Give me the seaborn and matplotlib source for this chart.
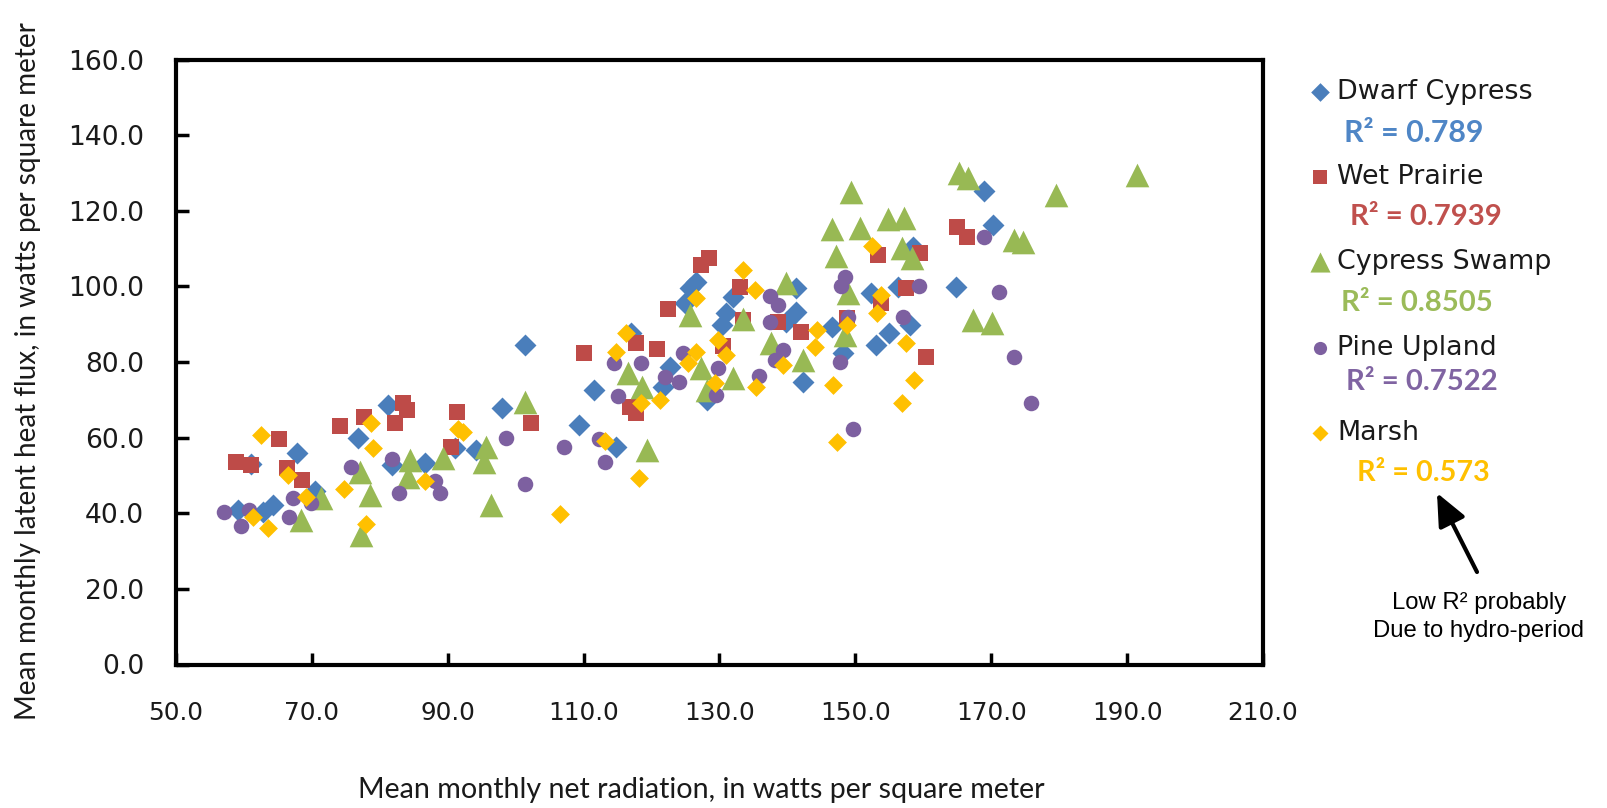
import numpy as np
import pandas as pd
import matplotlib
matplotlib.use("Agg")
import matplotlib.pyplot as plt
import seaborn as sns
from matplotlib import font_manager
from matplotlib.font_manager import FontProperties
from matplotlib.ticker import FormatStrFormatter

# ---------------- data ----------------
dwarf_x = [59.1, 61.0, 62.8, 64.3, 67.8, 70.4, 76.8, 81.2, 81.8, 86.6, 91.0, 94.2, 98.0, 101.4,
           109.3, 111.5, 114.8, 117.0, 121.7, 122.7, 124.9, 125.6, 126.6, 128.1, 130.3, 131.0,
           132.0, 139.8, 141.3, 141.3, 142.3, 146.5, 148.2, 152.3, 153.1, 155.0, 156.3, 158.0,
           158.5, 164.8, 168.9, 170.2]
dwarf_y = [40.9, 53.0, 40.4, 42.2, 56.0, 46.0, 59.8, 68.6, 52.8, 53.2, 57.2, 56.7, 67.8, 84.5,
           63.3, 72.6, 57.4, 87.6, 73.5, 78.8, 95.5, 99.5, 101.2, 70.0, 89.8, 92.9,
           97.3, 90.7, 93.3, 99.5, 74.8, 89.3, 82.3, 98.2, 84.5, 87.6, 99.9, 89.8,
           110.5, 99.8, 125.3, 116.2]

prairie_x = [58.9, 61.1, 65.1, 66.3, 68.6, 74.1, 77.6, 82.2, 83.4, 84.0, 90.5, 91.3, 102.2, 110.1,
             116.8, 117.7, 117.7, 120.8, 122.4, 127.3, 128.5, 130.5, 133.0, 133.4, 138.6, 142.0,
             148.7, 153.3, 153.8, 157.5, 159.5, 160.4, 164.9, 166.4]
prairie_y = [53.6, 52.8, 59.6, 51.9, 48.8, 63.1, 65.4, 63.8, 69.1, 67.3, 57.6, 66.9, 63.8, 82.3,
             68.2, 66.4, 84.9, 83.4, 93.9, 105.7, 107.4, 84.1, 99.9, 91.1, 90.7, 88.0,
             91.6, 108.3, 95.5, 99.5, 108.9, 81.2, 115.6, 113.1]

swamp_x = [68.4, 71.4, 77.1, 77.3, 78.5, 84.1, 84.4, 89.3, 95.4, 95.7, 96.4, 101.3, 116.5, 118.6,
           119.4, 125.6, 127.3, 128.1, 132.0, 133.4, 137.6, 139.8, 142.3, 146.6, 147.2, 148.4,
           148.9, 149.3, 150.7, 154.8, 156.8, 157.2, 158.4, 165.3, 166.6, 167.3, 170.1, 173.4,
           174.6, 179.6, 191.4]
swamp_y = [38.2, 44.0, 51.0, 34.3, 44.8, 49.7, 54.1, 54.5, 53.6, 57.6, 42.2, 69.5, 77.0, 73.5,
           56.7, 92.4, 78.3, 72.6, 75.7, 91.3, 84.9, 100.8, 80.5, 115.3, 108.0, 87.1,
           98.2, 125.0, 115.5, 117.8, 110.1, 118.0, 107.4, 129.9, 128.6, 91.1, 90.2, 112.3,
           111.8, 124.2, 129.5]

pine_x = [57.1, 59.6, 60.7, 66.7, 67.2, 69.9, 75.8, 81.8, 82.8, 88.1, 88.9, 98.6, 101.3, 107.1,
          112.3, 113.2, 114.4, 115.1, 118.5, 122.0, 124.1, 124.7, 129.5, 129.8, 135.8, 137.4,
          137.4, 138.1, 138.6, 139.3, 147.7, 147.9, 148.4, 148.9, 149.6, 157.0, 159.4, 168.9,
          171.1, 173.4, 175.8]
pine_y = [40.3, 36.7, 40.9, 38.9, 44.0, 42.8, 52.1, 54.3, 45.3, 48.4, 45.3, 59.8, 47.7, 57.4,
          59.6, 53.5, 79.8, 71.0, 79.8, 76.0, 74.8, 82.5, 71.2, 78.3, 76.4, 97.5,
          90.7, 80.5, 95.1, 83.2, 80.1, 100.1, 102.6, 92.0, 62.3, 92.0, 100.1, 113.1,
          98.6, 81.2, 69.1]

marsh_x = [61.3, 62.5, 63.6, 66.5, 69.1, 74.8, 77.9, 78.7, 79.0, 86.6, 91.5, 92.2, 106.5, 113.2,
           114.8, 116.3, 118.2, 118.5, 121.2, 125.3, 126.6, 126.6, 129.3, 129.8, 131.0, 133.4,
           135.2, 135.4, 139.3, 144.0, 144.4, 146.7, 147.3, 148.7, 152.5, 153.2, 153.8, 156.8,
           157.5, 158.6]
marsh_y = [39.1, 60.7, 36.0, 50.1, 44.2, 46.3, 37.2, 64.0, 57.2, 48.6, 62.2, 61.6, 39.8, 59.2,
           82.7, 87.6, 49.2, 69.1, 70.0, 79.7, 82.7, 96.8, 74.4, 85.8, 81.9, 104.3,
           99.0, 73.5, 79.2, 84.0, 88.5, 73.9, 58.8, 89.8, 110.8, 92.9, 97.7, 69.1,
           85.0, 75.2]

series_names = ["Dwarf Cypress", "Wet Prairie", "Cypress Swamp", "Pine Upland", "Marsh"]
r2_labels = ["R\u00b2 = 0.789", "R\u00b2 = 0.7939", "R\u00b2 = 0.8505", "R\u00b2 = 0.7522", "R\u00b2 = 0.573"]
x_ticks = [50, 70, 90, 110, 130, 150, 170, 190, 210]
y_ticks = [0, 20, 40, 60, 80, 100, 120, 140, 160]

# ---------------- style ----------------
colors = ["#4A7EBB", "#BE4B48", "#98B954", "#7D60A0", "#FFC000"]
r2_colors = ["#4F86C6", "#C0504D", "#9BBB59", "#8064A2", "#FFC000"]
markers = ["D", "s", "^", "o", "D"]
sizes = [125, 130, 290, 125, 92]

sns.set_theme(style="white")
plt.rcParams["font.family"] = ["DejaVu Sans"]

names = {f.name for f in font_manager.fontManager.ttflist}
calib = "Lato" if "Lato" in names else "DejaVu Sans"

W, H = 1608, 808
fig = plt.figure(figsize=(W / 100, H / 100), dpi=100)
L, R, T, B = 176, 1263, 59.5, 664.5
ax = fig.add_axes([L / W, 1 - B / H, (R - L) / W, (B - T) / H])

data = [(dwarf_x, dwarf_y), (prairie_x, prairie_y), (swamp_x, swamp_y), (pine_x, pine_y), (marsh_x, marsh_y)]
for (xs, ys), name, c, m, s in zip(data, series_names, colors, markers, sizes):
    df = pd.DataFrame({"x": xs, "y": ys})
    sns.scatterplot(data=df, x="x", y="y", marker=m, color=c, s=s, linewidth=0,
                    ax=ax, label=name, zorder=3)

handles, labels = ax.get_legend_handles_labels()
if ax.get_legend() is not None:
    ax.get_legend().remove()

ax.set_xlim(50, 210)
ax.set_ylim(0, 160)
ax.set_xticks(x_ticks)
ax.set_yticks(y_ticks)
ax.xaxis.set_major_formatter(FormatStrFormatter("%.1f"))
ax.yaxis.set_major_formatter(FormatStrFormatter("%.1f"))
ax.set_xlabel("")
ax.set_ylabel("")
ax.grid(False)
for sp in ax.spines.values():
    sp.set_visible(True)
    sp.set_color("black")
    sp.set_linewidth(3)
ax.tick_params(axis="both", direction="in", length=9, width=2.5, color="black",
               labelcolor="#1a1a1a")
ax.tick_params(axis="y", pad=23, left=True)
ax.tick_params(axis="x", pad=26, bottom=True)

fig.canvas.draw()
rend = fig.canvas.get_renderer()


def measure(text, **kw):
    t = fig.text(0, 0, text, **kw)
    fig.canvas.draw()
    w = t.get_window_extent(rend).width
    t.remove()
    return w


def fit(t, target):
    w = t.get_window_extent(rend).width
    t.set_fontsize(t.get_fontsize() * target / w)


# tick label sizes
fy = 18 * 76 / measure("160.0", fontsize=18)
fx = 18 * 71 / measure("110.0", fontsize=18)
fpy = FontProperties(family="DejaVu Sans", size=fy)
fpx = FontProperties(family="DejaVu Sans", size=fx)
for t in ax.get_yticklabels():
    t.set_fontproperties(fpy)
for t in ax.get_xticklabels():
    t.set_fontproperties(fpx)

# axis titles
xt = fig.text(701 / W, 1 - 790 / H, "Mean monthly net radiation, in watts per square meter",
              ha="center", va="center", fontsize=16, color="#1a1a1a", family=calib)
yt = fig.text(28 / W, 1 - 371 / H, "Mean monthly latent heat flux, in watts per square meter",
              ha="center", va="center", rotation=90, fontsize=16, color="#1a1a1a", family=calib)
fig.canvas.draw()
fit(xt, 689)
w = yt.get_window_extent(rend).height
yt.set_fontsize(yt.get_fontsize() * 702 / w)

# legend
FL = 17 * 195 / measure("Dwarf Cypress", fontsize=17)
pt = 100 / 72
pitch_pt = 90.5 / pt
th = 1.164 * FL
lsp = (pitch_pt - th) / FL
hl = 1.0
htp = (17 / pt - FL * hl / 2) / FL
leg_left = 1320 - hl * FL / 2 * pt
leg_top = 94.5 - th * pt / 2
fig.legend(handles, labels, loc="upper left", bbox_to_anchor=(leg_left / W, 1 - leg_top / H),
           bbox_transform=fig.transFigure, frameon=False, fontsize=FL, labelspacing=lsp,
           handlelength=hl, handletextpad=htp, borderpad=0, borderaxespad=0, markerscale=0.85,
           labelcolor="#1a1a1a")

# R^2 texts
r2_pos = [(1344, 133.3), (1350, 217.4), (1341, 303.5), (1346, 381.5), (1357, 472.8)]
r2_w = [140, 152, 152, 152, 133]
for lab, c, (px, py), tw in zip(r2_labels, r2_colors, r2_pos, r2_w):
    t = fig.text(px / W, 1 - py / H, lab, ha="left", va="center", color=c,
                 fontweight="bold", family=calib, fontsize=18)
    fig.canvas.draw()
    fit(t, tw)

# annotation
ax.annotate("", xy=(1437, H - 493), xycoords="figure pixels",
            xytext=(1477, H - 572), textcoords="figure pixels",
            arrowprops=dict(arrowstyle="-|>,head_width=0.4,head_length=0.9", lw=3,
                            color="black", mutation_scale=22, shrinkA=0, shrinkB=0),
            annotation_clip=False)
a1 = fig.text(1479 / W, 1 - 603 / H, "Low R\u00b2 probably", ha="center", va="center",
              family="Liberation Sans", fontsize=15, color="black")
a2 = fig.text(1479 / W, 1 - 631 / H, "Due to hydro-period", ha="center", va="center",
              family="Liberation Sans", fontsize=15, color="black")
fig.canvas.draw()
fit(a2, 212)
a1.set_fontsize(a2.get_fontsize())

fig.savefig("out.png", dpi=100, facecolor="white")
